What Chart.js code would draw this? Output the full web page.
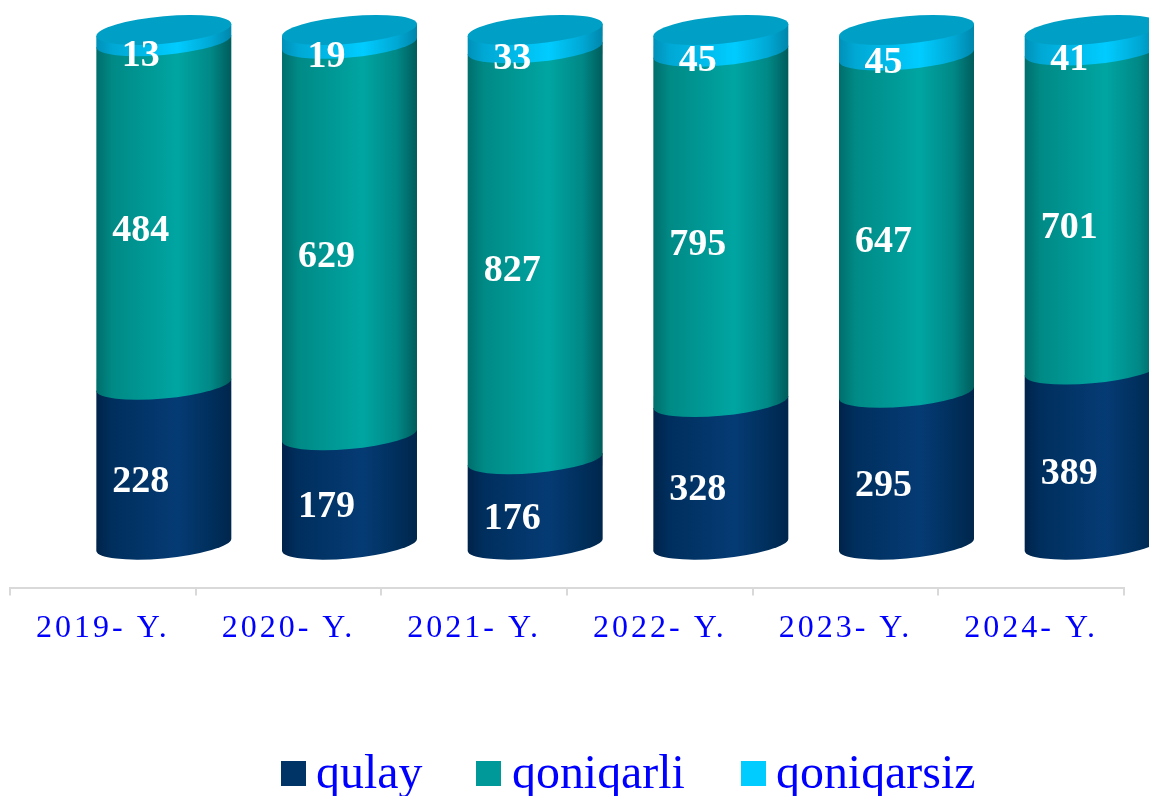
<!DOCTYPE html>
<html>
<head>
<meta charset="utf-8">
<style>
  html, body { margin: 0; padding: 0; background: #fff; overflow: hidden; }
  canvas { display: block; }
</style>
<script src="https://cdn.jsdelivr.net/npm/chart.js@4"></script>
</head>
<body>
<canvas id="chart" width="1149" height="796"></canvas>
<script>
const years = ["2019- Y.", "2020- Y.", "2021- Y.", "2022- Y.", "2023- Y.", "2024- Y."]
const qulay = [228, 179, 176, 328, 295, 389]
const qoniqarli = [484, 629, 827, 795, 647, 701]
const qoniqarsiz = [13, 19, 33, 45, 45, 41]

// the bars are 100% stacked, so each value goes in as its share of the year
const share = (arr) => arr.map((v, i) => v / (qulay[i] + qoniqarli[i] + qoniqarsiz[i]) * 100)

const SERIF = '"Liberation Serif", "Times New Roman", serif'
const shiftX = 61      // 3d depth pushes cylinders right of their category
const tilt = 6         // rim drop at the left edge
const rimY = 13.75     // half height of the rim ellipse
const lidLift = 2      // lid sits slightly above the 100% line
const floorLift = 2    // and the floor rim slightly above the 0 line
const labelDx = 38     // value labels sit left of the cylinder axis

const shades = [
  ['#00234a', '#002f5e', '#053b74', '#002f5c', '#00264c'],
  ['#006e6c', '#008a86', '#00a5a2', '#008886', '#005c5c'],
  ['#0090b8', '#00a8d4', '#00ccff', '#00a8d4', '#0086ab']
]

// moves the context so a plain ellipse comes out tilted like the original
function rimTransform(ctx, cx, r) {
  ctx.transform(1, -tilt / r, 0, 1, cx, 0)
}

function sideGradient(ctx, r, colors) {
  const g = ctx.createLinearGradient(-r, 0, r, 0)
  g.addColorStop(0, colors[0])
  g.addColorStop(0.12, colors[1])
  g.addColorStop(0.6, colors[2])
  g.addColorStop(0.85, colors[3])
  g.addColorStop(1, colors[4])
  return g
}

const cylinders = {
  id: 'cylinders',
  beforeDraw(chart) {
    chart.ctx.letterSpacing = '3px'   // axis labels are tracked out
  },
  beforeDatasetDraw() {
    return false
  },
  afterDatasetsDraw(chart) {
    const ctx = chart.ctx
    ctx.letterSpacing = '0px'
    years.forEach((y, i) => {
      let top
      chart.data.datasets.forEach((ds, d) => {
        const el = chart.getDatasetMeta(d).data[i]
        const r = el.width / 2
        const upper = d === 2 ? el.y - lidLift : el.y
        const lower = d === 0 ? el.base - floorLift : el.base
        ctx.save()
        rimTransform(ctx, el.x + shiftX, r)
        ctx.beginPath()
        ctx.moveTo(-r, upper)
        ctx.lineTo(-r, lower)
        ctx.ellipse(0, lower, r, rimY, 0, Math.PI, 0, true)
        ctx.lineTo(r, upper)
        ctx.closePath()
        ctx.fillStyle = sideGradient(ctx, r, shades[d])
        ctx.fill()
        ctx.restore()
        top = el
      })
      // lid of the cylinder
      const r = top.width / 2
      ctx.save()
      rimTransform(ctx, top.x + shiftX, r)
      ctx.beginPath()
      ctx.ellipse(0, top.y - lidLift, r, rimY, 0, 0, Math.PI * 2)
      ctx.fillStyle = '#00a0c6'
      ctx.fill()
      ctx.restore()
    })
    // value labels go last so they stay above every cylinder part
    const values = [qulay, qoniqarli, qoniqarsiz]
    ctx.save()
    ctx.font = 'bold 38px ' + SERIF
    ctx.fillStyle = '#ffffff'
    ctx.textAlign = 'center'
    ctx.textBaseline = 'middle'
    values.forEach((vals, d) => {
      vals.forEach((v, i) => {
        const el = chart.getDatasetMeta(d).data[i]
        // labels in the original sit below the segment centre
        ctx.fillText(String(v), el.x + labelDx, (el.y + el.base) / 2 * 0.9925 + 19.7)
      })
    })
    ctx.restore()
  },
  afterDraw(chart) {
    // legend by hand, the built in one keeps a gap of half the font size
    const ctx = chart.ctx
    const boxX = [281, 476, 741]
    const textX = [316, 512, 776]
    ctx.save()
    ctx.letterSpacing = '0px'
    ctx.font = '47.9px ' + SERIF
    ctx.textBaseline = 'alphabetic'
    ctx.textAlign = 'left'
    chart.data.datasets.forEach((ds, d) => {
      ctx.fillStyle = ds.backgroundColor
      ctx.fillRect(boxX[d], 761, 25, 25)
      ctx.fillStyle = '#0000ff'
      ctx.fillText(ds.label, textX[d], 788)
    })
    ctx.restore()
  }
}

new Chart(document.getElementById("chart"), {
  type: 'bar',
  data: {
    labels: years,
    datasets: [
      { label: "qulay", backgroundColor: "#003366", data: share(qulay) },
      { label: "qoniqarli", backgroundColor: "#009999", data: share(qoniqarli) },
      { label: "qoniqarsiz", backgroundColor: "#00ccff", data: share(qoniqarsiz) }
    ]
  },
  options: {
    responsive: false,
    animation: false,
    barPercentage: 0.727,
    categoryPercentage: 1,
    layout: { padding: { left: 10, right: 25, top: 0, bottom: 134 } },
    plugins: {
      legend: { display: false },
      tooltip: { enabled: false }
    },
    scales: {
      x: {
        stacked: true,
        grid: {
          offset: true,
          drawOnChartArea: false,
          color: '#d9d9d9',
          lineWidth: 2,
          tickLength: 8
        },
        border: { color: '#d9d9d9', width: 2 },
        ticks: {
          color: '#0000ff',
          padding: 14,
          maxRotation: 0,
          autoSkip: false,
          font: { family: SERIF, size: 32 }
        }
      },
      y: {
        stacked: true,
        display: false,
        min: -7.96,
        max: 106.21
      }
    }
  },
  plugins: [cylinders]
})
</script>
</body>
</html>
